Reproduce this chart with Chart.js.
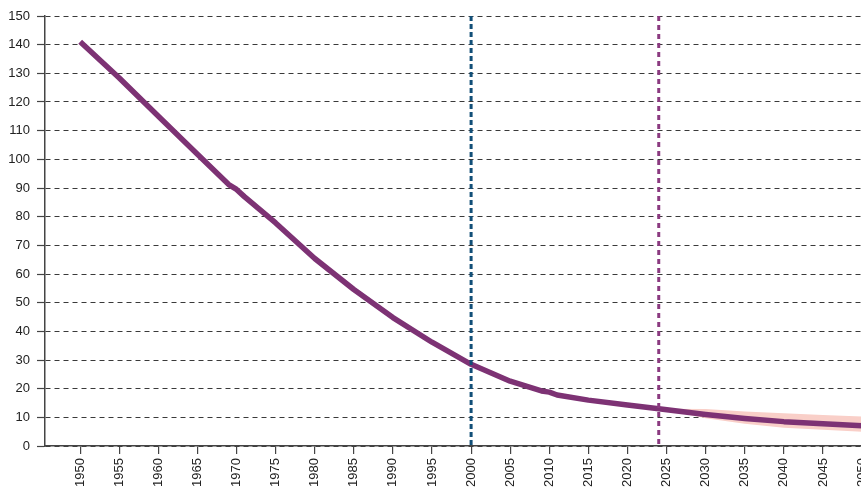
<!DOCTYPE html>
<html>
<head>
<meta charset="utf-8">
<script src="https://cdn.jsdelivr.net/npm/chart.js@4/dist/chart.umd.min.js"></script>
<style>
  html, body { margin: 0; padding: 0; overflow: hidden; background: #fff; width: 861px; height: 488px; }
  canvas { display: block; }
</style>
</head>
<body>
<canvas id="c" width="880" height="488"></canvas>
<script>
// ---- data ----
const years = [1950, 1955, 1960, 1965, 1969, 1970, 1971, 1975, 1980, 1985, 1990, 1995, 2000, 2005, 2009, 2010, 2011, 2015, 2020, 2024, 2030, 2035, 2040, 2045, 2050];
const values = [141.0, 128.4, 115.0, 101.8, 91.2, 89.5, 87.0, 77.8, 65.4, 54.6, 44.8, 36.2, 28.5, 22.6, 19.2, 18.8, 17.8, 16.0, 14.3, 13.0, 11.0, 9.6, 8.5, 7.8, 7.1];
const bandYears = [2024, 2030, 2035, 2040, 2045, 2050];
const bandUpper = [13.0, 12.9, 12.0, 11.4, 10.8, 10.3];
const bandLower = [13.0, 9.7, 7.8, 6.4, 5.7, 5.0];
const markerYears = [2000, 2024];
const xTickLabels = [1950, 1955, 1960, 1965, 1970, 1975, 1980, 1985, 1990, 1995, 2000, 2005, 2010, 2015, 2020, 2025, 2030, 2035, 2040, 2045, 2050];
const yMin = 0, yMax = 150, yStep = 10;

const pts = (xs, ys) => xs.map((x, i) => ({ x: x, y: ys[i] }));
const vline = (x) => [{ x: x, y: yMax }, { x: x, y: yMin }];

Chart.defaults.font.family = "'Liberation Sans', Arial, sans-serif";
Chart.defaults.font.size = 13;
Chart.defaults.color = '#222';

new Chart(document.getElementById('c'), {
  type: 'line',
  data: {
    datasets: [
      { data: vline(markerYears[0]), borderColor: '#124f78', borderWidth: 3, borderDash: [5, 3], pointRadius: 0, order: 0, fill: false },
      { data: vline(markerYears[1]), borderColor: '#8b3a80', borderWidth: 3, borderDash: [5, 4], pointRadius: 0, order: 0, fill: false },
      { data: pts(years, values), borderColor: '#7d3274', borderWidth: 5.5, pointRadius: 0, tension: 0, borderCapStyle: 'butt', borderJoinStyle: 'round', order: 1, fill: false },
      { data: pts(bandYears, bandUpper), borderWidth: 0, borderColor: 'rgba(0,0,0,0)', backgroundColor: '#f9cfc8', pointRadius: 0, fill: '+1', tension: 0, order: 2 },
      { data: pts(bandYears, bandLower), borderWidth: 0, borderColor: 'rgba(0,0,0,0)', pointRadius: 0, fill: false, tension: 0, order: 2 }
    ]
  },
  options: {
    responsive: false,
    animation: false,
    devicePixelRatio: 1,
    layout: { padding: { top: 16, right: 0, left: 0, bottom: 0 } },
    plugins: { legend: { display: false }, tooltip: { enabled: false } },
    scales: {
      x: {
        type: 'linear',
        min: 1945.5,
        max: 2052.3,
        afterBuildTicks: (s) => { s.ticks = xTickLabels.map(v => ({ value: v })); },
        afterFit: (s) => { s.height = 42; s.paddingLeft = 0; s.paddingRight = 0; },
        ticks: { minRotation: 90, maxRotation: 90, padding: 4, autoSkip: false, callback: (v) => String(v) },
        grid: { drawOnChartArea: false, drawTicks: true, tickLength: 8, color: '#444', lineWidth: 1.2 },
        border: { display: true, color: '#444', width: 1.5 }
      },
      y: {
        min: yMin,
        max: yMax,
        afterFit: (s) => { s.width = 45; },
        ticks: { stepSize: yStep, padding: 7 },
        grid: { color: '#3a3a3a', lineWidth: 1, tickLength: 8, tickColor: '#444', tickWidth: 1.2, tickBorderDash: [] },
        border: { display: true, color: '#444', width: 1.5, dash: [5, 4] }
      }
    }
  }
});
</script>
</body>
</html>
